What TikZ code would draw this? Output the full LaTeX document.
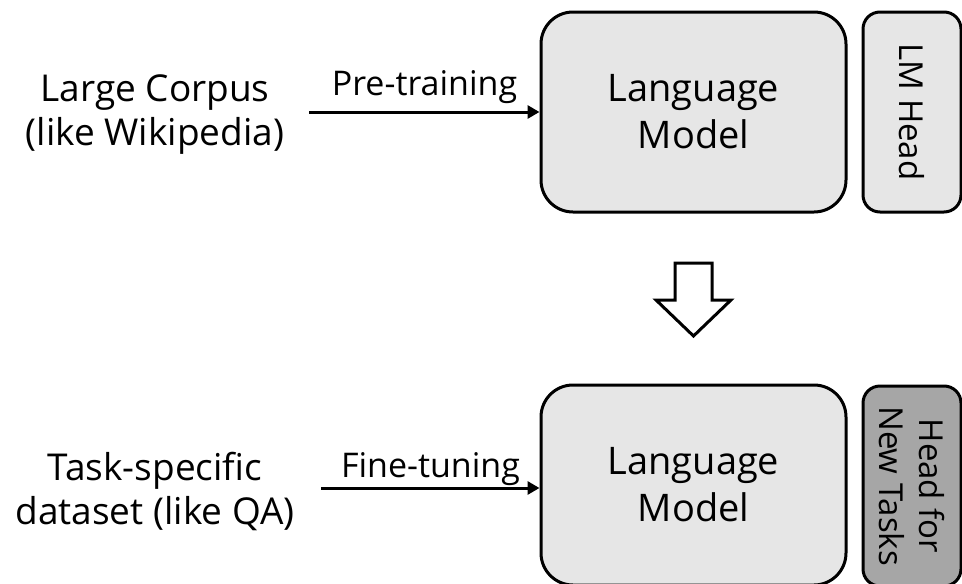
\documentclass[tikz,border=0pt]{standalone}
\usepackage{fontspec}
\setmainfont{Open Sans}
\usetikzlibrary{arrows.meta}
\definecolor{modelfill}{HTML}{E6E6E6}
\definecolor{newheadfill}{HTML}{A6A6A6}
\begin{document}
\begin{tikzpicture}[x=1pt,y=-1pt,
  model/.style={draw, line width=3pt, fill=modelfill, rounded corners=32pt,
    minimum width=305pt, minimum height=200pt, inner sep=0pt, align=center,
    font=\fontsize{38}{47}\selectfont},
  headbox/.style={draw, line width=3pt, rounded corners=17pt,
    minimum width=98pt, minimum height=200pt, inner sep=0pt},
  headtext/.style={rotate=-90, inner sep=0pt, align=center,
    font=\fontsize{33}{40}\selectfont},
  source/.style={align=center, inner sep=0pt, font=\fontsize{37}{44}\selectfont},
  phase/.style={anchor=base, inner sep=0pt, font=\fontsize{34}{40}\selectfont},
  flow/.style={-{Triangle[length=12pt,width=13pt]}, line width=3pt}
]
\useasboundingbox (0,0) rectangle (962,584);

% pre-training stage
\node[model] (lm1) at (693.5,112) {Language\\Model};
\node[headbox, fill=modelfill] (hd1) at (912,112) {};
\node[headtext] (hd1text) at (hd1.center) {LM Head};
\node[source] (corpus) at (155,115) {Large Corpus\\(like Wikipedia)};
\coordinate (s1) at (309,112);
\draw[flow] (s1) -- (lm1.west |- s1);
\node[phase] (pre) at (424.5,95) {Pre-training};

% transition arrow
\draw[line width=3pt, fill=white, miter limit=10]
  (675,263) -- (712,263) -- (712,300) -- (731,300) -- (693.5,336)
  -- (656,300) -- (675,300) -- cycle;

% fine-tuning stage
\node[model] (lm2) at (693.5,485) {Language\\Model};
\node[headbox, fill=newheadfill] (hd2) at (912,486) {};
\node[headtext] (hd2text) at (hd2.center) {Head for\\New Tasks};
\node[source] (task) at (155,491) {Task-specific\\dataset (like QA)};
\coordinate (s2) at (321,488);
\draw[flow] (s2) -- (lm2.west |- s2);
\node[phase] (fine) at (430.5,477) {Fine-tuning};
\end{tikzpicture}
\end{document}
